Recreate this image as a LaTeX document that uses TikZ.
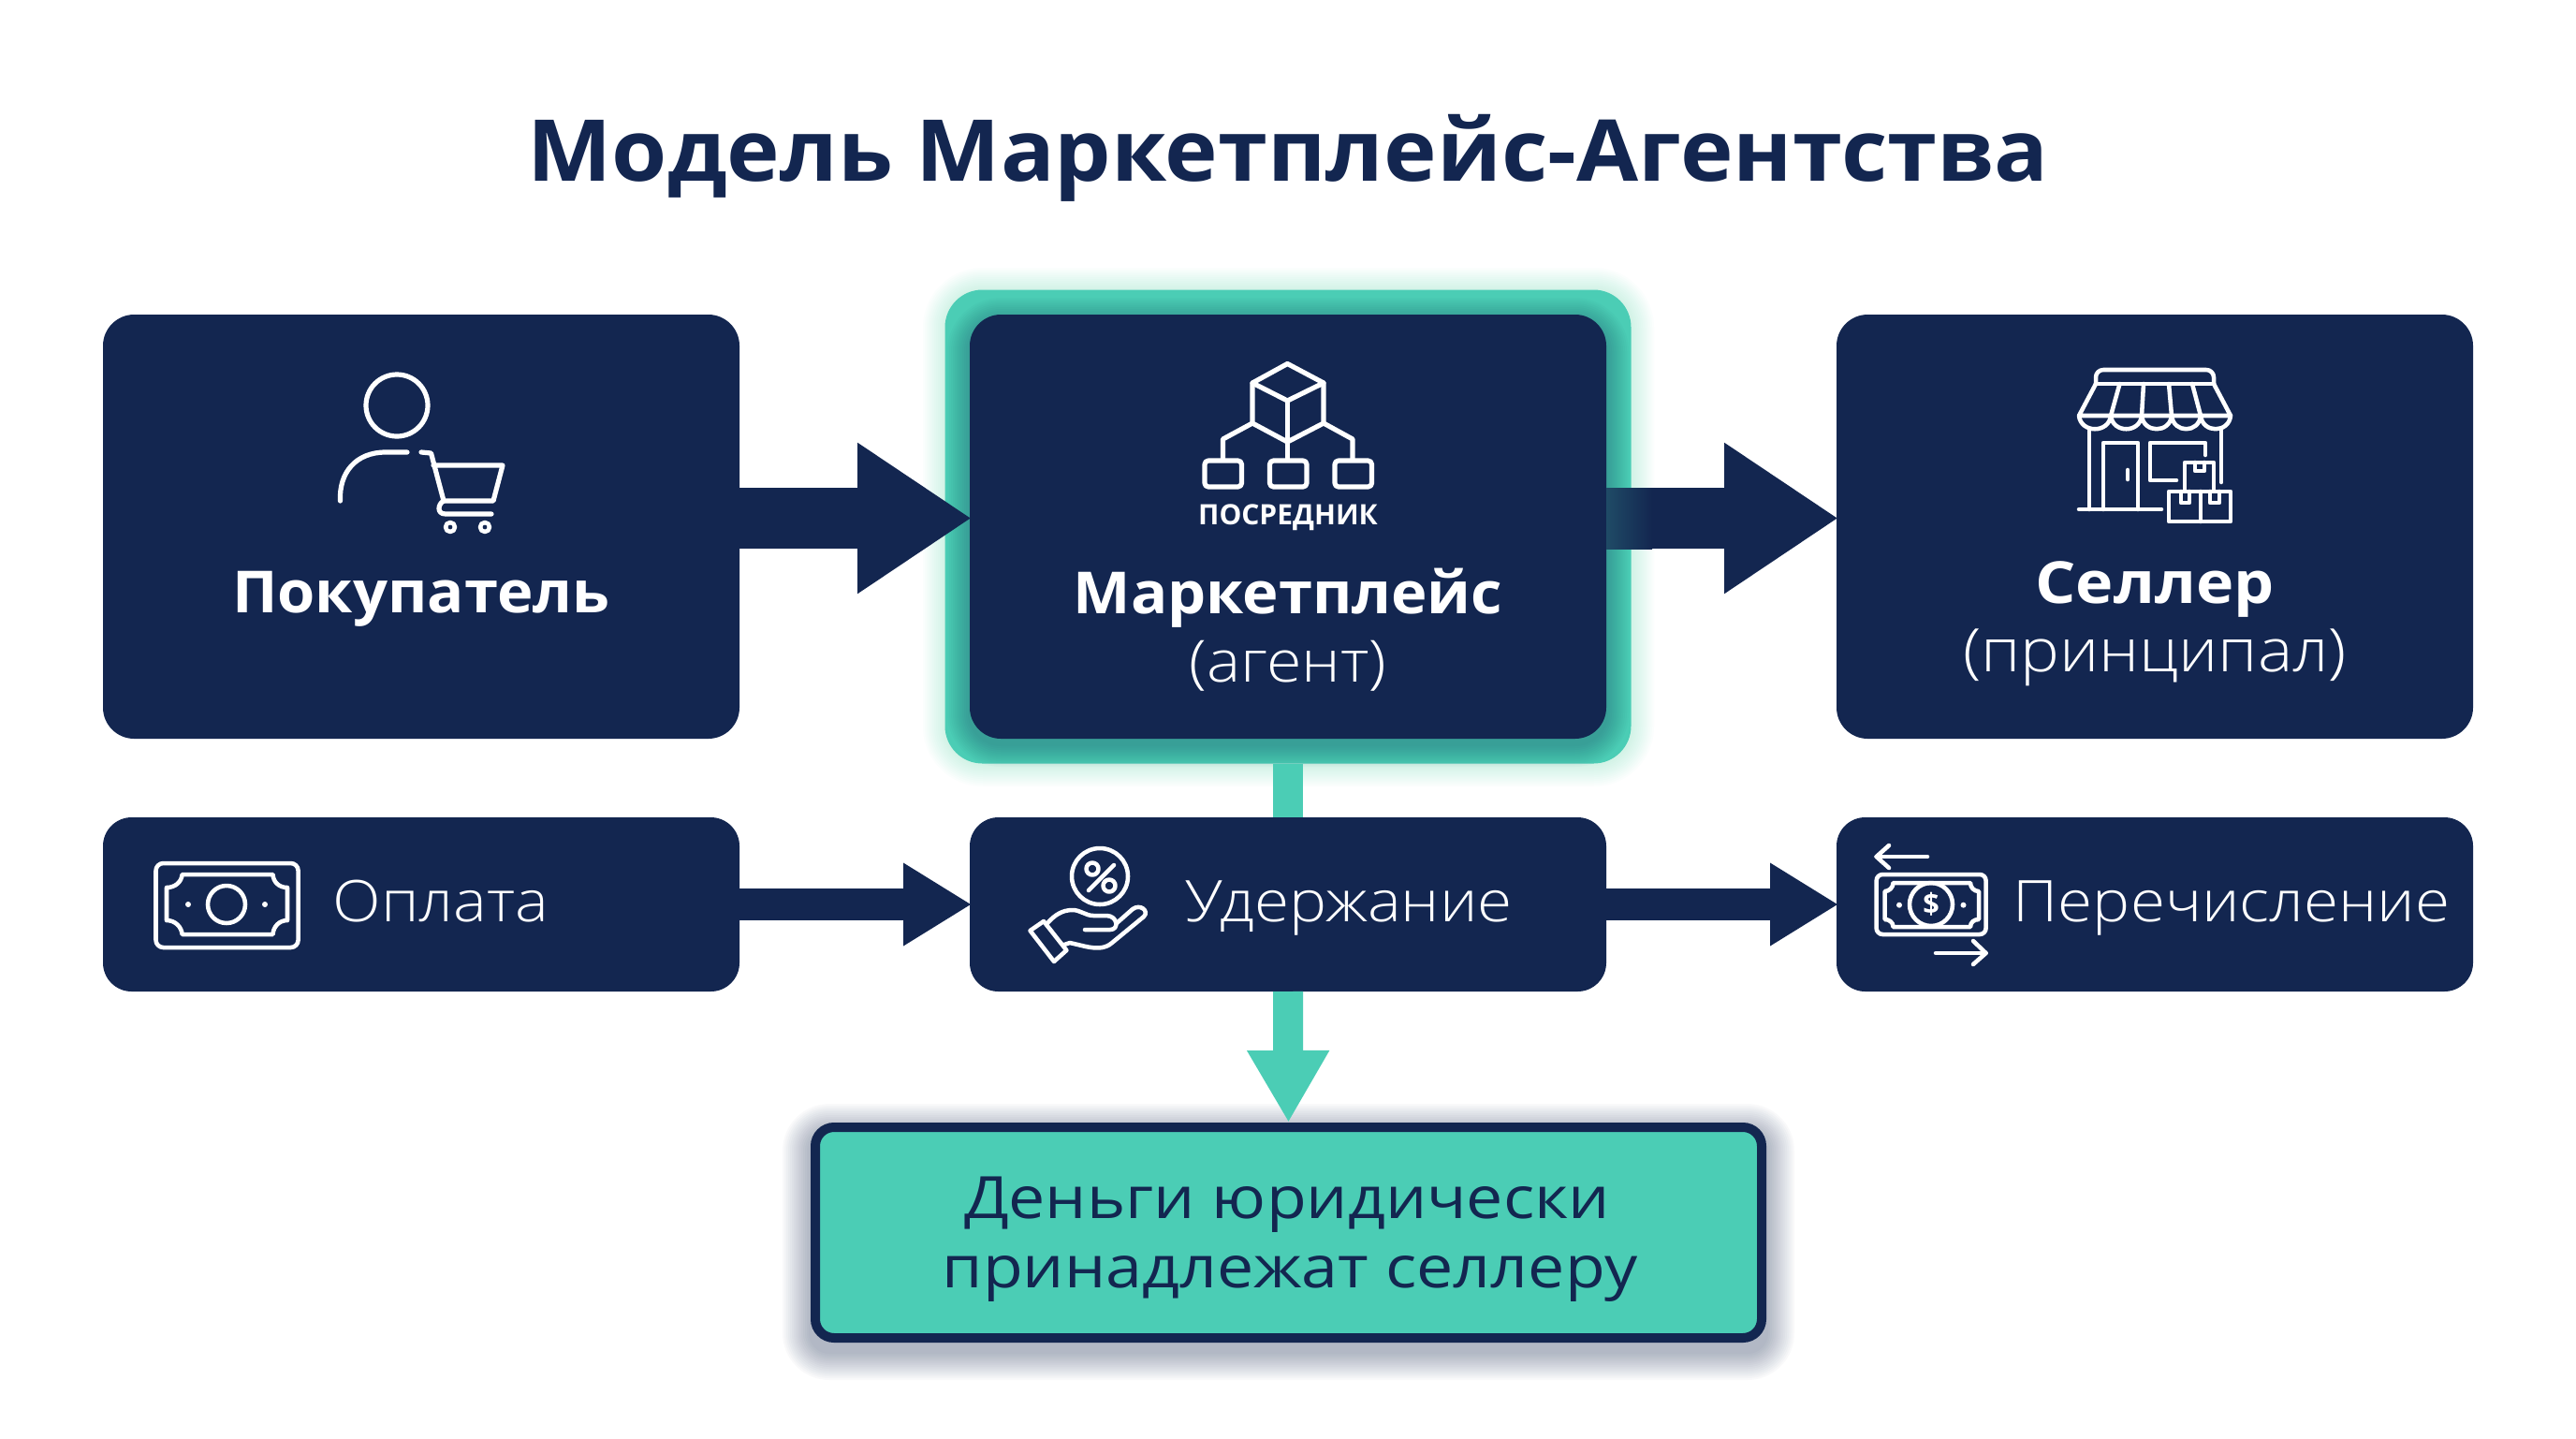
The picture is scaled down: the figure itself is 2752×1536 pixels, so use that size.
\documentclass[tikz,border=0pt]{standalone}
\usepackage{fontspec}
\setmainfont{Open Sans}
\newfontfamily\boldface[FakeStretch=1.05]{Open Sans Bold}
\newfontfamily\wideface[FakeStretch=1.1]{Open Sans Bold}
\newfontfamily\thinface[FakeStretch=1.1]{Open Sans Light}
\newfontfamily\mintface[FakeStretch=1.12]{Open Sans}
\usetikzlibrary{arrows.meta}
\definecolor{navy}{RGB}{19,38,80}
\definecolor{mint}{RGB}{75,205,181}
\tikzset{
  topbox/.style={fill=navy,rounded corners=25pt,minimum width=510pt,minimum height=339.75pt,outer sep=0pt},
  lowbox/.style={fill=navy,rounded corners=23pt,minimum width=510pt,minimum height=139.5pt,outer sep=0pt},
  bigflow/.style={navy,line width=48.75pt,shorten >=-1.5pt,-{Triangle[length=91.5pt,width=114.5pt]}},
  lowflow/.style={navy,line width=25.5pt,shorten >=-1.5pt,-{Triangle[length=54.75pt,width=62.6pt]}},
  icon/.style={white,line width=3.9pt,line cap=round,line join=round},
  thinicon/.style={white,line width=3.4pt,line cap=round,line join=round},
  headline/.style={anchor=base,inner sep=0pt,white,font=\boldface\fontsize{46.5}{50}\selectfont},
  subline/.style={anchor=base,inner sep=0pt,white,font=\thinface\fontsize{46.5}{50}\selectfont},
  lowline/.style={anchor=base,inner sep=0pt,white,font=\thinface\fontsize{46}{50}\selectfont},
  mintline/.style={anchor=base,inner sep=0pt,navy,font=\mintface\fontsize{46.8}{50}\selectfont}
}
\begin{document}
\begin{tikzpicture}[x=0.75pt,y=0.75pt,yscale=-1,xscale=1]
\useasboundingbox (0,0) rectangle (2752,1536);
\fill [white] (0,0) rectangle (2752,1536);

% Text Node
\node (title) at (1376,193) [anchor=base,inner sep=0pt,navy,font=\boldface\fontsize{68.4}{80}\selectfont] {Модель Маркетплейс-Агентства};

%Soft glow round the middle frame
\foreach \s in {2,4,...,24}
  \fill [mint,opacity=0.018,rounded corners={(30+\s*0.75)*1pt}] (1010-\s,310-\s) rectangle (1743+\s,816+\s);
\node (halo) at (1376,562.5) [fill=mint,rounded corners=30pt,minimum width=549.75pt,minimum height=379.5pt,outer sep=0pt] {};
%Shadow of the middle box on the frame
\foreach \s in {2,4,...,24}
  \fill [navy,opacity=0.025,rounded corners={(25+\s*0.75)*1pt}] (1036-\s,342-\s) rectangle (1716+\s,795+\s);

%Shadow under the bottom box
\foreach \s in {2,4,...,30}
  \fill [navy,opacity=0.022,rounded corners={(15+\s*0.75)*1pt}] (866-\s,1209-\s) rectangle (1887+\s,1444+\s);

% Boxes
\node (buyer) at (450,562.5) [topbox] {};
\node (market) at (1376,562.5) [topbox] {};
\node (seller) at (2302,562.5) [topbox] {};
\node (pay) at (450,966) [lowbox] {};
\node (hold) at (1376,966) [lowbox] {};
\node (payout) at (2302,966) [lowbox] {};
\node (legal) at (1376.5,1316.5) [fill=mint,draw=navy,line width=7.5pt,rounded corners=15pt,minimum width=758.25pt,minimum height=168.75pt,outer sep=0pt] {};

% Connectors
\coordinate (flowlevel) at (0,553.5);
\draw [bigflow] (buyer.east |- flowlevel) -- (market.west |- flowlevel);
\draw [bigflow] (market.east |- flowlevel) -- (seller.west |- flowlevel);
%Tint where the shaft crosses the frame
\fill [left color=navy!78!mint,right color=navy] (1716,521) rectangle (1765,586);
\draw [lowflow] (pay) -- (hold);
\draw [lowflow] (hold) -- (payout);
\draw [mint,line width=24pt] (halo.south) -- (hold.north);
\draw [mint,line width=24pt,shorten >=3.75pt,-{Triangle[length=57.75pt,width=61.8pt]}] (hold.south) -- (legal.north);

% Text Node
\node (buyertext) at (450,654) [headline] {Покупатель};
% Text Node
\node (markettext) at (1376,655) [headline] {Маркетплейс};
% Text Node
\node (agenttext) at (1376,728) [subline] {(агент)};
% Text Node
\node (mediatext) at (1376,560) [anchor=base,inner sep=0pt,white,font=\bfseries\fontsize{22.5}{24}\selectfont] {ПОСРЕДНИК};
% Text Node
\node (sellertext) at (2302,644) [headline,font=\wideface\fontsize{46.5}{50}\selectfont] {Селлер};
% Text Node
\node (principaltext) at (2302,717) [subline,font=\thinface\fontsize{48}{50}\selectfont] {(принципал)};
% Text Node
\node (paytext) at (471,984) [lowline] {Оплата};
% Text Node
\node (holdtext) at (1441,984) [lowline] {Удержание};
% Text Node
\node (payouttext) at (2384,984) [lowline] {Перечисление};
% Text Node
\node (legaltext) at (1375,1301) [mintline] {Деньги юридически};
% Text Node
\node (legaltextb) at (1378,1375) [mintline] {принадлежат селлеру};

%Icon: person and cart
\draw [icon] (424,433) circle (33);
\draw [icon] (363.5,535) .. controls (362,505) and (380,483) .. (412,483) -- (435,483);
\draw [icon] (450,483) -- (460.5,484) -- (474,535) -- (527,535) -- (537,497) -- (463,497);
\draw [icon] (474,535) .. controls (468,538) and (466,549) .. (476,549) -- (525,549);
\draw [thinicon] (481,563) circle (5);
\draw [thinicon] (518,563) circle (5);

%Icon: cube and branches
\draw [icon] (1375.4,388.5) -- (1414,409) -- (1375.4,428) -- (1338,409) -- cycle;
\draw [icon] (1338,409) -- (1338,452) -- (1375.4,472) -- (1414,452) -- (1414,409);
\draw [icon] (1375.4,428) -- (1375.4,491);
\draw [icon] (1338,452) -- (1306.5,469) -- (1306.5,491);
\draw [icon] (1414,452) -- (1445,469) -- (1445,491);
\foreach \a in {1287,1356.5,1426}
  \draw [icon,rounded corners=3pt] (\a,492) rectangle (\a+39.5,520);

%Icon: shop
\draw [thinicon,rounded corners=6pt] (2239,410) -- (2239,395) -- (2365,395) -- (2365,410);
\draw [thinicon] (2239,410) -- (2365,410);
\draw [thinicon] (2239,410) -- (2221,444) -- (2383,444) -- (2365,410);
\draw [thinicon] (2264.5,410) -- (2255,444);
\draw [thinicon] (2290,410) -- (2288,444);
\draw [thinicon] (2317,410) -- (2320,444);
\draw [thinicon] (2342,410) -- (2351,444);
\foreach \a/\b in {2221/2255,2255/2288,2288/2320,2320/2351,2351/2383}
  \draw [thinicon] (\a,444) .. controls (\a+2,463) and (\b-2,463) .. (\b,444);
\draw [thinicon] (2232,458) -- (2232,544);
\draw [thinicon] (2373,458) -- (2373,515);
\draw [thinicon] (2221,544) -- (2309,544);
\draw [thinicon] (2247,544) -- (2247,473) -- (2284,473) -- (2284,544);
\draw [thinicon] (2273,502) -- (2273,512);
\draw [thinicon] (2356,486) -- (2356,473) -- (2297,473) -- (2297,513) -- (2325,513);
\draw [thinicon] (2334,523) -- (2334,494) -- (2365,494) -- (2365,523);
\draw [thinicon] (2345,494) -- (2345,503) -- (2355,503) -- (2355,494);
\draw [thinicon] (2317,525) rectangle (2383,557);
\draw [thinicon] (2351,525) -- (2351,557);
\draw [thinicon] (2330,525) -- (2330,537) -- (2339,537) -- (2339,525);
\draw [thinicon] (2361,525) -- (2361,537) -- (2371,537) -- (2371,525);

%Icon: banknote
\draw [thinicon,rounded corners=6pt] (166.5,922) rectangle (318.6,1012);
\draw [thinicon] (194.6,934) -- (291.5,934) .. controls (292,942) and (298,948) .. (307,948) -- (307,983) .. controls (298,983) and (292,990) .. (291.5,998) -- (194.6,998) .. controls (194,990) and (187,983) .. (178,983) -- (178,948) .. controls (187,948) and (194,942) .. (194.6,934) -- cycle;
\draw [thinicon] (242,966) circle (20);
\fill [white] (201,966) circle (3);
\fill [white] (283,966) circle (3);

%Icon: hand and percent
\draw [thinicon] (1175,936) circle (30);
\draw [thinicon] (1190,924) -- (1163,951);
\draw [thinicon] (1167,928) circle (6.5);
\draw [thinicon] (1185,946) circle (6.5);
\draw [thinicon] (1115,984) -- (1100.5,994) -- (1126,1027) -- (1139.4,1015) -- cycle;
\draw [thinicon] (1119,986) .. controls (1127,977) and (1135,972) .. (1146,972) .. controls (1154,972) and (1160,978) .. (1168,978) -- (1182,978) .. controls (1194,978) and (1196,993) .. (1186,993) -- (1159,993);
\draw [thinicon] (1193,986) -- (1210,971) .. controls (1218,965) and (1228,973) .. (1222,979) -- (1188,1007) .. controls (1180,1014) and (1170,1013) .. (1160,1011) -- (1143,1007) -- (1137,1009);

%Icon: transfer
\draw [thinicon] (2059,915) -- (2004.6,915);
\draw [thinicon] (2018,903) -- (2004.6,915) -- (2018,927);
\draw [thinicon] (2068,1018) -- (2121.6,1018);
\draw [thinicon] (2108,1005) -- (2121.6,1018) -- (2108,1030);
\draw [thinicon,rounded corners=5pt] (2004.6,934) rectangle (2121.6,998);
\draw [thinicon] (2022.5,943) -- (2105,943) .. controls (2105,948) and (2109,952) .. (2114,952) -- (2114,982) .. controls (2109,982) and (2105,985) .. (2105,990) -- (2022.5,990) .. controls (2022.5,985) and (2018,982) .. (2013.6,982) -- (2013.6,952) .. controls (2018,952) and (2022.5,948) .. (2022.5,943) -- cycle;
\draw [thinicon] (2063,966) circle (23);
\fill [white] (2029,966.7) circle (3);
\fill [white] (2097.5,966.7) circle (3);
% Text Node
\node (dollarsign) at (2063,966) [inner sep=0pt,white,font=\bfseries\fontsize{23}{26}\selectfont] {\$};

\end{tikzpicture}
\end{document}
